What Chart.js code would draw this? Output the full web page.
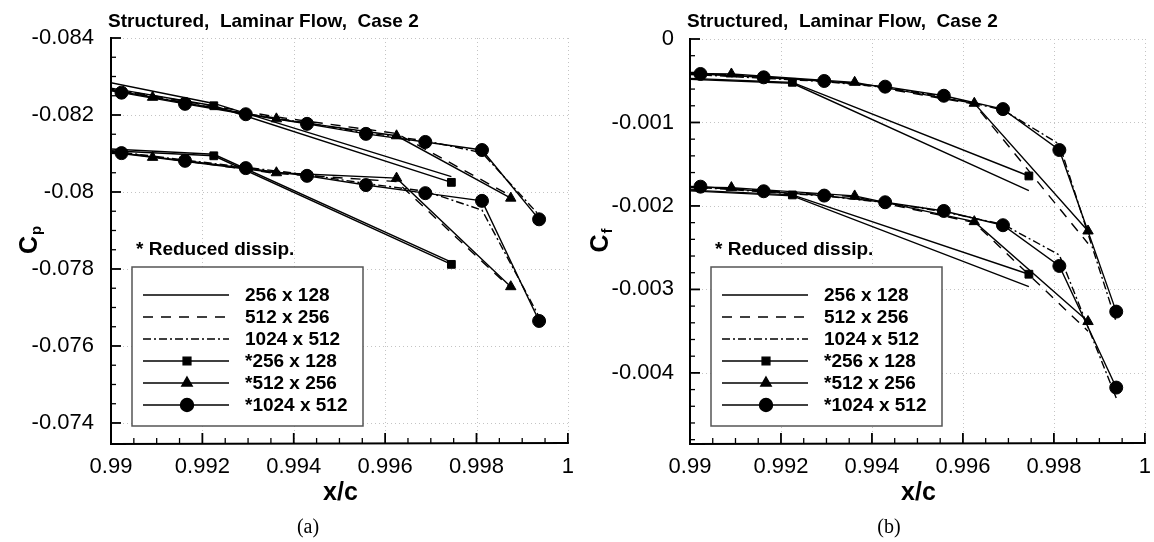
<!DOCTYPE html>
<html>
<head>
<meta charset="utf-8">
<script src="https://cdn.jsdelivr.net/npm/chart.js@4.4.1/dist/chart.umd.min.js"></script>
<style>
  html, body { margin: 0; padding: 0; background: #fff; }
  #wrap { position: relative; width: 1154px; height: 542px; }
  .panel { position: absolute; top: 0; width: 577px; height: 542px; }
</style>
</head>
<body>
<div id="wrap">
  <div class="panel" style="left:0"><canvas id="cpChart" width="577" height="542"></canvas></div>
  <div class="panel" style="left:577px"><canvas id="cfChart" width="577" height="542"></canvas></div>
</div>
<script>
// x/c of the grid points (first entry of each lies just left of the window)
const xFine = [0.9889, 0.99023, 0.99162, 0.99295, 0.99429, 0.99558, 0.99688, 0.99812, 0.99937];
const xMedium = [0.9882, 0.99091, 0.99362, 0.99625, 0.99875];
const xCoarse = [0.98705, 0.99225, 0.99745];

const gridLabels = ['256 x 128', '512 x 256', '1024 x 512', '*256 x 128', '*512 x 256', '*1024 x 512'];

// Cp, upper curves
const cpUp256 = [-0.08354, -0.0823, -0.0804];
const cpUp512 = [-0.08305, -0.0825, -0.08195, -0.08152, -0.0799];
const cpUp1024 = [-0.0829, -0.08262, -0.08232, -0.08204, -0.08179, -0.08154, -0.08133, -0.08102, -0.0794];
const cpUpRed256 = [-0.0833, -0.08224, -0.08025];
const cpUpRed512 = [-0.08302, -0.08246, -0.0819, -0.08146, -0.07984];
const cpUpRed1024 = [-0.08286, -0.08258, -0.08229, -0.08202, -0.08177, -0.08151, -0.0813, -0.08109, -0.07929];
// Cp, lower curves
const cpLo256 = [-0.0813, -0.08098, -0.07818];
const cpLo512 = [-0.0813, -0.08092, -0.08048, -0.08027, -0.0775];
const cpLo1024 = [-0.08122, -0.08103, -0.08083, -0.08064, -0.08045, -0.08022, -0.08002, -0.07953, -0.07676];
const cpLoRed256 = [-0.08124, -0.08094, -0.07812];
const cpLoRed512 = [-0.0813, -0.0809, -0.0805, -0.08036, -0.07754];
const cpLoRed1024 = [-0.0812, -0.08101, -0.08081, -0.08062, -0.08042, -0.08018, -0.07997, -0.07977, -0.07665];

// Cf, upper curves
const cfUp256 = [-0.00042, -0.00053, -0.001816];
const cfUp512 = [-0.00041, -0.00043, -0.00053, -0.00078, -0.00245];
const cfUp1024 = [-0.00041, -0.00043, -0.00047, -0.00051, -0.00058, -0.00069, -0.00085, -0.00126, -0.00339];
const cfUpRed256 = [-0.00041, -0.000519, -0.001641];
const cfUpRed512 = [-0.0004, -0.000419, -0.000519, -0.00077, -0.0023];
const cfUpRed1024 = [-0.0004, -0.000419, -0.000459, -0.000503, -0.000571, -0.00068, -0.00084, -0.00133, -0.003266];
// Cf, lower curves
const cfLo256 = [-0.00174, -0.00188, -0.002966];
const cfLo512 = [-0.00177, -0.00179, -0.00189, -0.0022, -0.0035];
const cfLo1024 = [-0.00176, -0.00178, -0.00183, -0.00188, -0.00196, -0.00207, -0.00222, -0.002587, -0.0043];
const cfLoRed256 = [-0.001735, -0.001868, -0.002818];
const cfLoRed512 = [-0.00176, -0.00178, -0.00188, -0.002188, -0.003385];
const cfLoRed1024 = [-0.00175, -0.001769, -0.001824, -0.001876, -0.001956, -0.00206, -0.002231, -0.002719, -0.004176];

const SANS = '"Liberation Sans", Arial, sans-serif';

const lineStyles = [
    { borderDash: [], pointRadius: 0 },
    { borderDash: [10, 8], pointRadius: 0 },
    { borderDash: [8, 3, 2, 3], pointRadius: 0 },
    { borderDash: [], pointStyle: 'rect', pointRadius: 5.5 },
    { borderDash: [], pointStyle: 'triangle', pointRadius: 6 },
    { borderDash: [], pointStyle: 'circle', pointRadius: 6.5 }
];
const xSets = [xCoarse, xMedium, xFine, xCoarse, xMedium, xFine];

function buildDatasets(groups) {
    const out = [];
    groups.forEach(group => {
        group.forEach((ys, i) => {
            out.push(Object.assign({
                label: gridLabels[i],
                data: xSets[i].map((x, k) => ({ x: x, y: ys[k] })),
                showLine: true,
                borderColor: '#000',
                backgroundColor: '#000',
                borderWidth: 1.4,
                pointBorderWidth: 1,
                pointHoverRadius: 0,
                tension: 0,
                fill: false,
                clip: 0
            }, lineStyles[i]));
        });
    });
    return out;
}

function isOn(v, step) {
    const k = v / step;
    return Math.abs(k - Math.round(k)) < 1e-6;
}
function fmt(v) {
    const r = +v.toFixed(6);
    return r === 0 ? '0' : String(r);
}
function steps(from, to, step) {
    const n = Math.round((to - from) / step);
    const vals = [];
    for (let i = 0; i <= n; i++) vals.push(from + i * step);
    return vals;
}

const frame = {
    id: 'frame',
    beforeDatasetsDraw(chart, args, o) {
        const { ctx, chartArea: a, scales: { x, y } } = chart;
        ctx.save();
        ctx.strokeStyle = '#c4c4c4';
        ctx.lineWidth = 1;
        ctx.setLineDash([1, 3]);
        ctx.beginPath();
        steps(o.xMin, o.xMax, o.xMajor).forEach(v => {
            const px = Math.round(x.getPixelForValue(v)) + 0.5;
            ctx.moveTo(px, a.top); ctx.lineTo(px, a.bottom);
        });
        steps(o.yFrom, o.yTo, o.yMajor).forEach(v => {
            const py = Math.round(y.getPixelForValue(v)) + 0.5;
            ctx.moveTo(a.left, py); ctx.lineTo(a.right, py);
        });
        ctx.stroke();
        ctx.restore();
    },
    afterDatasetsDraw(chart, args, o) {
        const { ctx, chartArea: a, scales: { x, y } } = chart;
        ctx.save();
        ctx.strokeStyle = '#000';
        // inward tick marks
        steps(o.xMin, o.xMax, o.xMinor).forEach(v => {
            const major = isOn(v, o.xMajor);
            const px = x.getPixelForValue(v);
            ctx.lineWidth = major ? 1.8 : 1.3;
            ctx.beginPath();
            ctx.moveTo(px, a.bottom);
            ctx.lineTo(px, a.bottom - (major ? 10 : 5));
            ctx.stroke();
        });
        steps(o.yFrom, o.yMinorTo, o.yMinor).forEach(v => {
            const major = isOn(v, o.yMajor);
            const py = y.getPixelForValue(v);
            ctx.lineWidth = major ? 1.8 : 1.3;
            ctx.beginPath();
            ctx.moveTo(a.left, py);
            ctx.lineTo(a.left + (major ? 10 : 5), py);
            ctx.stroke();
        });
        // axis lines
        ctx.lineWidth = 2;
        ctx.beginPath();
        ctx.moveTo(a.left, a.top - 1);
        ctx.lineTo(a.left, a.bottom + 1);
        ctx.lineTo(a.right + 1, a.bottom);
        ctx.stroke();
        ctx.restore();
    },
    afterDraw(chart, args, o) {
        const { ctx, chartArea: a } = chart;
        ctx.save();
        ctx.fillStyle = '#000';
        // panel title
        ctx.font = 'bold 19px ' + SANS;
        ctx.textAlign = 'left';
        ctx.textBaseline = 'alphabetic';
        ctx.fillText('Structured,  Laminar Flow,  Case 2', a.left - 3, 27);

        // x axis title
        ctx.font = 'bold 25px ' + SANS;
        ctx.textAlign = 'center';
        ctx.fillText('x/c', (a.left + a.right) / 2 + 1, 500);

        // rotated y axis title with subscript
        ctx.save();
        ctx.translate(o.yTitleX, (a.top + a.bottom) / 2);
        ctx.rotate(-Math.PI / 2);
        ctx.font = 'bold 25px ' + SANS;
        const wC = ctx.measureText('C').width;
        ctx.font = 'bold 15px ' + SANS;
        const wS = ctx.measureText(o.yTitleSub).width;
        const x0 = -(wC + wS) / 2;
        ctx.textAlign = 'left';
        ctx.font = 'bold 25px ' + SANS;
        ctx.fillText('C', x0, 9);
        ctx.font = 'bold 15px ' + SANS;
        ctx.fillText(o.yTitleSub, x0 + wC + 1, 13);
        ctx.restore();

        // caption
        ctx.font = '20px "Liberation Serif", "Times New Roman", serif';
        ctx.textAlign = 'center';
        ctx.fillText(o.caption, o.captionX, 533);

        // legend
        const bx = a.left + 21, by = 267, bw = 231, bh = 159;
        ctx.font = 'bold 19px ' + SANS;
        ctx.textAlign = 'left';
        ctx.fillText('* Reduced dissip.', bx + 4, by - 12);
        ctx.fillStyle = '#fff';
        ctx.fillRect(bx, by, bw, bh);
        ctx.strokeStyle = '#555';
        ctx.lineWidth = 1.5;
        ctx.strokeRect(bx, by, bw, bh);
        chart.data.datasets.slice(0, 6).forEach((ds, i) => {
            const ry = by + 28 + i * 22;
            ctx.strokeStyle = '#000';
            ctx.lineWidth = 1.4;
            ctx.setLineDash(ds.borderDash);
            ctx.beginPath();
            ctx.moveTo(bx + 11, ry);
            ctx.lineTo(bx + 97, ry);
            ctx.stroke();
            ctx.setLineDash([]);
            if (ds.pointRadius > 0) {
                ctx.fillStyle = '#000';
                Chart.helpers.drawPoint(ctx, {
                    pointStyle: ds.pointStyle, radius: ds.pointRadius,
                    rotation: 0, borderWidth: 1
                }, bx + 55, ry);
            }
            ctx.fillStyle = '#000';
            ctx.textBaseline = 'middle';
            ctx.fillText(ds.label, bx + 113, ry + 1);
        });
        ctx.restore();
    }
};

function makeChart(id, datasets, yOpts, deco, axisWidth, rightPad) {
    return new Chart(document.getElementById(id), {
        type: 'scatter',
        data: { datasets },
        plugins: [frame],
        options: {
            responsive: false,
            animation: false,
            events: [],
            layout: { padding: { top: deco.top, right: rightPad, left: 0, bottom: 0 } },
            plugins: {
                legend: { display: false },
                tooltip: { enabled: false },
                frame: deco
            },
            scales: {
                x: {
                    type: 'linear',
                    min: 0.99,
                    max: 1,
                    grid: { display: false },
                    border: { display: false },
                    ticks: {
                        stepSize: 0.0005,
                        autoSkip: false,
                        maxRotation: 0,
                        includeBounds: false,
                        padding: 3,
                        color: '#000',
                        font: { family: SANS, size: 22 },
                        callback: v => isOn(v, 0.002) ? fmt(v) : ''
                    },
                    afterFit: s => { s.height = 99; }
                },
                y: Object.assign({
                    type: 'linear',
                    grid: { display: false },
                    border: { display: false },
                    afterFit: s => { s.width = axisWidth; }
                }, yOpts)
            }
        }
    });
}

makeChart('cpChart',
    buildDatasets([
        [cpUp256, cpUp512, cpUp1024, cpUpRed256, cpUpRed512, cpUpRed1024],
        [cpLo256, cpLo512, cpLo1024, cpLoRed256, cpLoRed512, cpLoRed1024]
    ]),
    {
        min: -0.084,
        max: -0.07348,
        reverse: true,
        ticks: {
            stepSize: 0.0005,
            autoSkip: false,
            includeBounds: false,
            padding: 9,
            color: '#000',
            font: { family: SANS, size: 22 },
            callback: v => isOn(v, 0.002) ? fmt(v) : ''
        }
    },
    {
        top: 38, xMin: 0.99, xMax: 1, xMajor: 0.002, xMinor: 0.0005,
        yFrom: -0.084, yTo: -0.074, yMinorTo: -0.074, yMajor: 0.002, yMinor: 0.0005,
        yTitleX: 28, yTitleSub: 'p', caption: '(a)', captionX: 308
    },
    111, 8);

makeChart('cfChart',
    buildDatasets([
        [cfUp256, cfUp512, cfUp1024, cfUpRed256, cfUpRed512, cfUpRed1024],
        [cfLo256, cfLo512, cfLo1024, cfLoRed256, cfLoRed512, cfLoRed1024]
    ]),
    {
        min: -0.00484,
        max: 0,
        ticks: {
            stepSize: 0.0002,
            autoSkip: false,
            includeBounds: false,
            padding: 8,
            color: '#000',
            font: { family: SANS, size: 22 },
            callback: v => isOn(v, 0.001) ? fmt(v) : ''
        }
    },
    {
        top: 39, xMin: 0.99, xMax: 1, xMajor: 0.002, xMinor: 0.0005,
        yFrom: 0, yTo: -0.004, yMinorTo: -0.0048, yMajor: -0.001, yMinor: -0.0002,
        yTitleX: 22, yTitleSub: 'f', caption: '(b)', captionX: 312
    },
    113, 9);
</script>
</body>
</html>
